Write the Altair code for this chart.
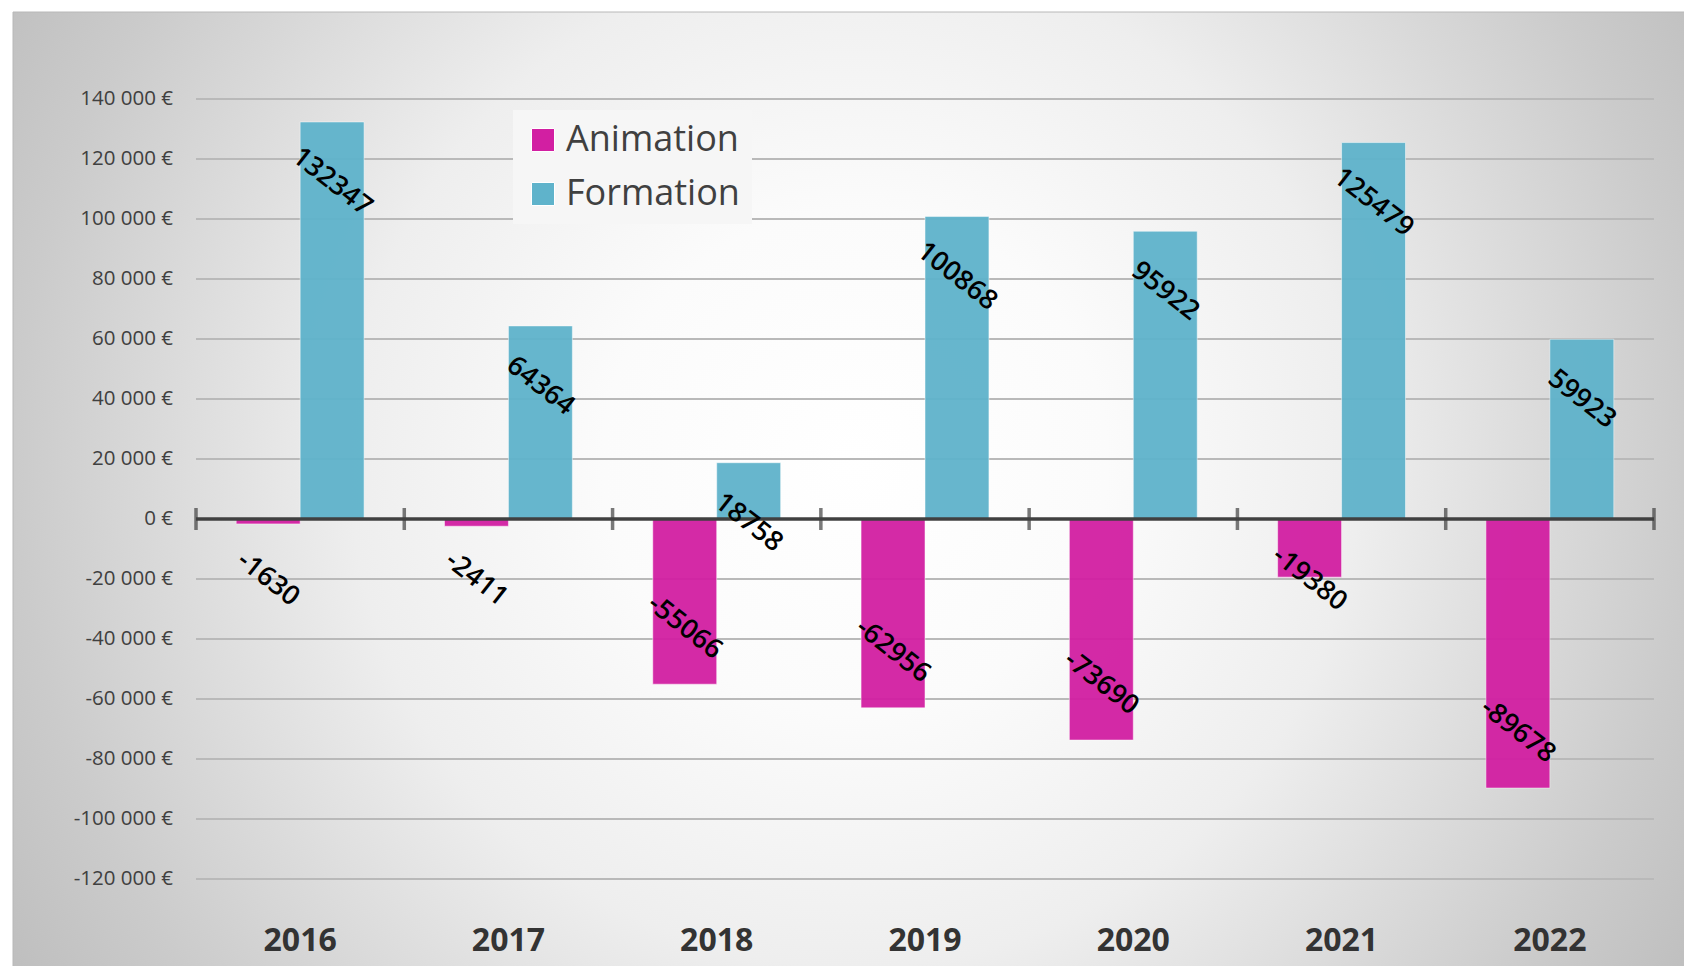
import altair as alt
import pandas as pd

years = ["2016", "2017", "2018", "2019", "2020", "2021", "2022"]
animation = [-1630, -2411, -55066, -62956, -73690, -19380, -89678]
formation = [132347, 64364, 18758, 100868, 95922, 125479, 59923]
series = ["Animation", "Formation"]
colors = ["#d21fa2", "#5fb3cb"]
y_ticks = list(range(-120000, 140001, 20000))
boundaries = list(range(0, 8))

rows = []
for i, yr in enumerate(years):
    rows.append({"year": yr, "series": "Animation", "value": animation[i]})
    rows.append({"year": yr, "series": "Formation", "value": formation[i]})
df = pd.DataFrame(rows)

FONT = "Open Sans"
yscale = alt.Scale(domain=[-120000, 140000], nice=False)
xscale = alt.Scale(paddingInner=0.386, paddingOuter=0.193)

one = alt.Data(values=[{"k": 1}])

bg = alt.Chart(one).mark_rect(
    fill=alt.RadialGradient(
        gradient="radial",
        stops=[
            alt.GradientStop(color="#ffffff", offset=0),
            alt.GradientStop(color="#fbfbfb", offset=0.25),
            alt.GradientStop(color="#eeeeee", offset=0.5),
            alt.GradientStop(color="#cbcbcb", offset=0.83),
            alt.GradientStop(color="#bcbcbc", offset=1),
        ],
        x1=0.5, y1=0.48, r1=0, x2=0.5, y2=0.48, r2=0.6,
    ),
    stroke="#b8b8b8",
    strokeWidth=1,
).encode(x=alt.value(-183), x2=alt.value(1500), y=alt.value(-87), y2=alt.value(880))

tick_df = pd.DataFrame({"v": y_ticks})

grid = alt.Chart(tick_df).mark_rule(color="#b9b9b9", strokeWidth=2).encode(
    y=alt.Y("v:Q", scale=yscale, axis=None)
)

ylabels = alt.Chart(tick_df).transform_calculate(
    lab="(datum.v < 0 ? '-' : '') + replace(format(abs(datum.v), ','), ',', ' ') + ' €'"
).mark_text(
    align="right", baseline="middle", font=FONT, fontSize=20.5, color="#404040"
).encode(
    x=alt.value(-23),
    y=alt.Y("v:Q", scale=yscale, axis=None),
    text="lab:N",
)

bars = alt.Chart(df).mark_bar(opacity=0.95, stroke="#ffffff", strokeWidth=1, strokeOpacity=0.5).encode(
    x=alt.X(
        "year:N", sort=years, scale=xscale,
        axis=alt.Axis(
            domain=False, ticks=False, grid=False, labelAngle=0, title=None,
            labelFont=FONT, labelFontSize=32, labelFontWeight="bold", labelColor="#333333",
            labelPadding=61, labelBaseline="middle", zindex=2,
        ),
    ),
    xOffset=alt.XOffset("series:N", sort=series),
    y=alt.Y("value:Q", scale=yscale, axis=None),
    y2=alt.Y2(datum=0),
    color=alt.Color(
        "series:N",
        scale=alt.Scale(domain=series, range=colors),
        legend=alt.Legend(
            title=None, orient="none", legendX=317, legendY=11, symbolType="square",
            symbolSize=529, labelFont=FONT, labelFontSize=36, labelColor="#404040",
            labelOffset=5, rowPadding=18, padding=12, fillColor="#f6f6f6",
            symbolStrokeColor="#ffffff", symbolStrokeWidth=1, symbolOpacity=1, labelLimit=400,
        ),
    ),
)

zero = alt.Chart(one).mark_rule(color="#404040", strokeWidth=3.5).encode(
    y=alt.Y(datum=0, scale=yscale, axis=None)
)

ticks = alt.Chart(pd.DataFrame({"b": boundaries})).mark_tick(
    orient="vertical", size=22, thickness=3.5, color="#404040"
).encode(
    x=alt.X("b:Q", scale=alt.Scale(domain=[0, 7], nice=False, zero=False), axis=None),
    y=alt.Y(datum=0, scale=yscale, axis=None),
)

text = alt.Chart(df).transform_calculate(
    lab="toString(datum.value)",
    pos="datum.value >= 0 ? datum.value - 20000 : min(-20000, datum.value + 19000)",
).mark_text(
    angle=38, font=FONT, fontSize=27, fontWeight=600, color="#000000", align="center", baseline="middle"
).encode(
    x=alt.X("year:N", sort=years, scale=xscale, axis=None),
    xOffset=alt.XOffset("series:N", sort=series),
    y=alt.Y("pos:Q", scale=yscale, axis=None),
    text="lab:N",
)

chart = alt.layer(bg, grid, ylabels, bars, zero, ticks, text).resolve_scale(
    x="independent"
).properties(
    width=1458,
    height=780,
    autosize=alt.AutoSizeParams(type="none"),
    padding={"left": 188, "top": 91, "right": 30, "bottom": 87},
    background="white",
).configure_view(stroke=None)

chart.save("out.html", embed_options={"renderer": "svg", "actions": False})
